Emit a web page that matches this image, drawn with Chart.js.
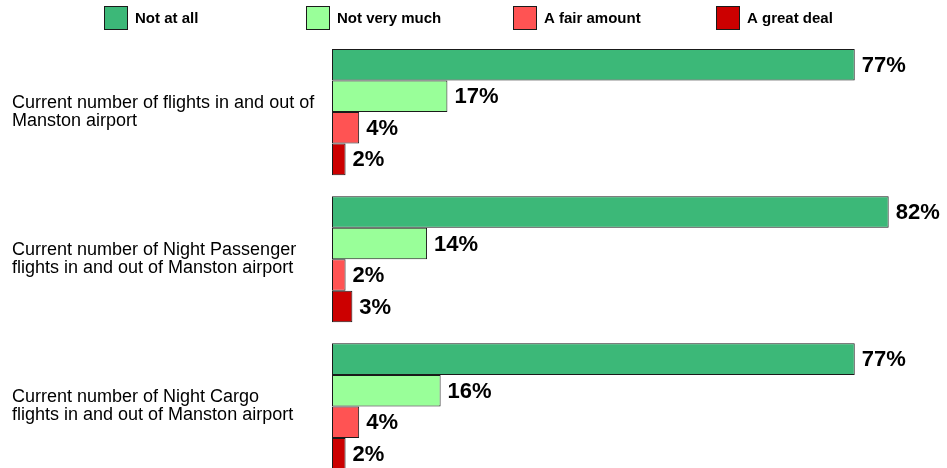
<!DOCTYPE html>
<html>
<head>
<meta charset="utf-8">
<script src="https://cdn.jsdelivr.net/npm/chart.js@4/dist/chart.umd.min.js"></script>
<style>
  html, body { margin: 0; padding: 0; background: #fff; overflow: hidden; }
  canvas { display: block; }
</style>
</head>
<body>
<canvas id="c" width="947" height="480"></canvas>
<script>
const categories = [
  ["Current number of flights in and out of", "Manston airport"],
  ["Current number of Night Passenger", "flights in and out of Manston airport"],
  ["Current number of Night Cargo", "flights in and out of Manston airport"]
];
const seriesNames = ["Not at all", "Not very much", "A fair amount", "A great deal"];
const notAtAll = [77, 82, 77];
const notVeryMuch = [17, 14, 16];
const aFairAmount = [4, 2, 4];
const aGreatDeal = [2, 3, 2];
const seriesColors = ["#3CB878", "#99FF99", "#FF5353", "#CC0000"];

const seriesValues = [notAtAll, notVeryMuch, aFairAmount, aGreatDeal];

const FONT = "'Liberation Sans', Arial, Helvetica, sans-serif";

const valueLabels = {
  id: 'valueLabels',
  afterDatasetsDraw(chart) {
    const ctx = chart.ctx;
    ctx.save();
    ctx.font = "bold 22px " + FONT;
    ctx.fillStyle = "#000";
    ctx.textAlign = "left";
    ctx.textBaseline = "middle";
    chart.data.datasets.forEach((ds, i) => {
      const meta = chart.getDatasetMeta(i);
      meta.data.forEach((el, j) => {
        ctx.fillText(ds.data[j] + "%", el.x + 7, el.y + 1);
      });
    });
    ctx.restore();
  }
};

const legendStarts = [104, 306, 513, 716];
const customLegend = {
  id: 'customLegend',
  afterDraw(chart) {
    const ctx = chart.ctx;
    ctx.save();
    chart.data.datasets.forEach((ds, i) => {
      const x = legendStarts[i];
      ctx.fillStyle = ds.backgroundColor;
      ctx.fillRect(x, 6, 24, 24);
      ctx.strokeStyle = "#1a1a1a";
      ctx.lineWidth = 1;
      ctx.strokeRect(x + 0.5, 6.5, 23, 23);
      ctx.fillStyle = "#000";
      ctx.font = "bold 15px " + FONT;
      ctx.textAlign = "left";
      ctx.textBaseline = "middle";
      ctx.fillText(ds.label, x + 31, 19);
    });
    ctx.restore();
  }
};

new Chart(document.getElementById('c'), {
  type: 'bar',
  data: {
    labels: categories,
    datasets: seriesNames.map((name, i) => ({
      label: name,
      data: seriesValues[i],
      backgroundColor: seriesColors[i],
      borderColor: "#1a1a1a",
      borderWidth: 1,
      borderSkipped: false,
      categoryPercentage: 0.857,
      barPercentage: 1.0
    }))
  },
  options: {
    indexAxis: 'y',
    responsive: false,
    animation: false,
    devicePixelRatio: 1,
    layout: { padding: { left: 12, right: 4, top: 38.5, bottom: 0 } },
    plugins: {
      legend: { display: false },
      tooltip: { enabled: false }
    },
    scales: {
      x: {
        display: false,
        min: 0,
        max: 90
      },
      y: {
        grid: { display: false },
        border: { display: false },
        ticks: {
          crossAlign: 'far',
          color: "#000",
          font: { family: FONT, size: 18, lineHeight: 1.0 },
          autoSkip: false
        },
        afterFit(scale) {
          scale.width = 320;
          scale.paddingTop = 0;
          scale.paddingBottom = 0;
        }
      }
    }
  },
  plugins: [valueLabels, customLegend]
});
</script>
</body>
</html>
